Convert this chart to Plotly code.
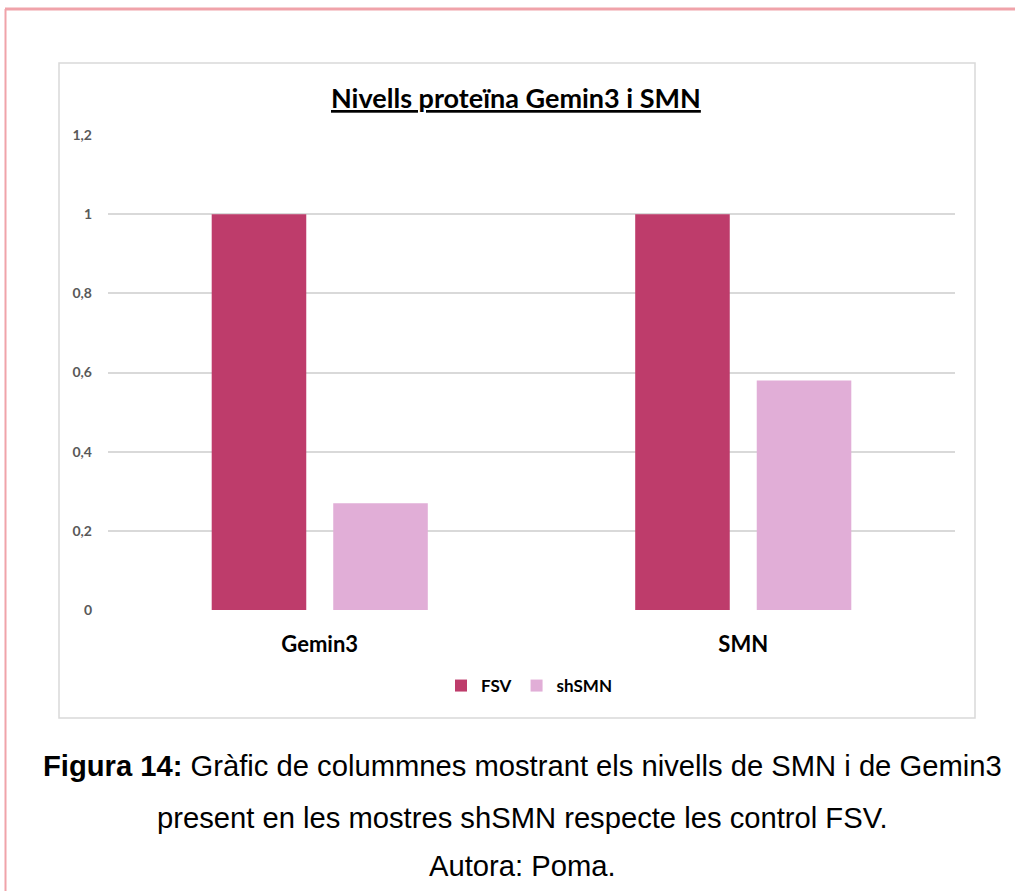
import plotly.graph_objects as go

categories = ["Gemin3", "SMN"]
fsv_values = [1.0, 1.0]
shsmn_values = [0.27, 0.58]
y_tickvals = [0, 0.2, 0.4, 0.6, 0.8, 1.0, 1.2]
y_ticktext = ["0", "0,2", "0,4", "0,6", "0,8", "1", "1,2"]

W, H = 1015, 891

def px(x):
    return x / W

def py(y):
    return 1 - y / H

fig = go.Figure()
fig.add_trace(go.Bar(name="FSV", x=categories, y=fsv_values, marker_color="#BE3C6B",
                     marker_line_width=0))
fig.add_trace(go.Bar(name="shSMN", x=categories, y=shsmn_values, marker_color="#E1AED7",
                     marker_line_width=0))

fig.update_layout(
    width=W, height=H,
    margin=dict(l=0, r=0, t=0, b=0, pad=0, autoexpand=False),
    paper_bgcolor="white", plot_bgcolor="white",
    barmode="group", bargap=0.426, bargroupgap=0.222,
    font=dict(family="Lato, Open Sans, sans-serif"),
    xaxis=dict(domain=[px(108), px(955)], showgrid=False, showline=False, zeroline=False,
               automargin=False,
               tickfont=dict(size=22, color="#000000", family="Lato, sans-serif", weight="bold"),
               ticks="", ticklabelstandoff=19),
    yaxis=dict(domain=[py(610), py(135)], range=[0, 1.2], tickvals=y_tickvals, ticktext=y_ticktext,
               automargin=False,
               showgrid=True, gridcolor="#D9D9D9", gridwidth=1.5, zeroline=False, showline=False,
               tickfont=dict(size=14, color="#595959", family="Lato, sans-serif", weight="bold"),
               ticks="", ticklabelstandoff=15),
    legend=dict(orientation="h", x=px(529), xanchor="center", y=py(686), yanchor="middle",
                font=dict(size=17, color="#000000", family="Lato, sans-serif", weight="bold"),
                itemwidth=30, bgcolor="rgba(0,0,0,0)"),
    showlegend=True,
)

shapes = [
    dict(type="rect", xref="paper", yref="paper", x0=px(59), x1=px(975), y0=py(718), y1=py(63),
         line=dict(color="#D9D9D9", width=1.5), fillcolor="rgba(0,0,0,0)", layer="below"),
    dict(type="line", xref="paper", yref="paper", x0=px(5), x1=1, y0=py(9), y1=py(9),
         line=dict(color="#F0A3AA", width=3)),
    dict(type="line", xref="paper", yref="paper", x0=px(5.5), x1=px(5.5), y0=py(9), y1=0,
         line=dict(color="#F0A3AA", width=2)),
]
fig.update_layout(shapes=shapes)

annotations = [
    dict(text="<b><u>Nivells proteïna Gemin3 i SMN</u></b>", x=px(516), y=py(97), xref="paper", yref="paper",
         showarrow=False, xanchor="center", yanchor="middle",
         font=dict(size=27, color="#000000", family="Lato, sans-serif")),
    dict(text="<b>Figura 14:</b> Gràfic de colummnes mostrant els nivells de SMN i de Gemin3",
         x=px(522), y=py(766), xref="paper", yref="paper", showarrow=False,
         xanchor="center", yanchor="middle",
         font=dict(size=29.2, color="#000000", family="Liberation Sans, Arial, sans-serif")),
    dict(text="present en les mostres shSMN respecte les control FSV.",
         x=px(522), y=py(818), xref="paper", yref="paper", showarrow=False,
         xanchor="center", yanchor="middle",
         font=dict(size=29.2, color="#000000", family="Liberation Sans, Arial, sans-serif")),
    dict(text="Autora: Poma.",
         x=px(522), y=py(866), xref="paper", yref="paper", showarrow=False,
         xanchor="center", yanchor="middle",
         font=dict(size=29.2, color="#000000", family="Liberation Sans, Arial, sans-serif")),
]
fig.update_layout(annotations=annotations)

fig.write_html("out.html", config={"displayModeBar": False},
               post_script="document.body.style.margin='0';")
